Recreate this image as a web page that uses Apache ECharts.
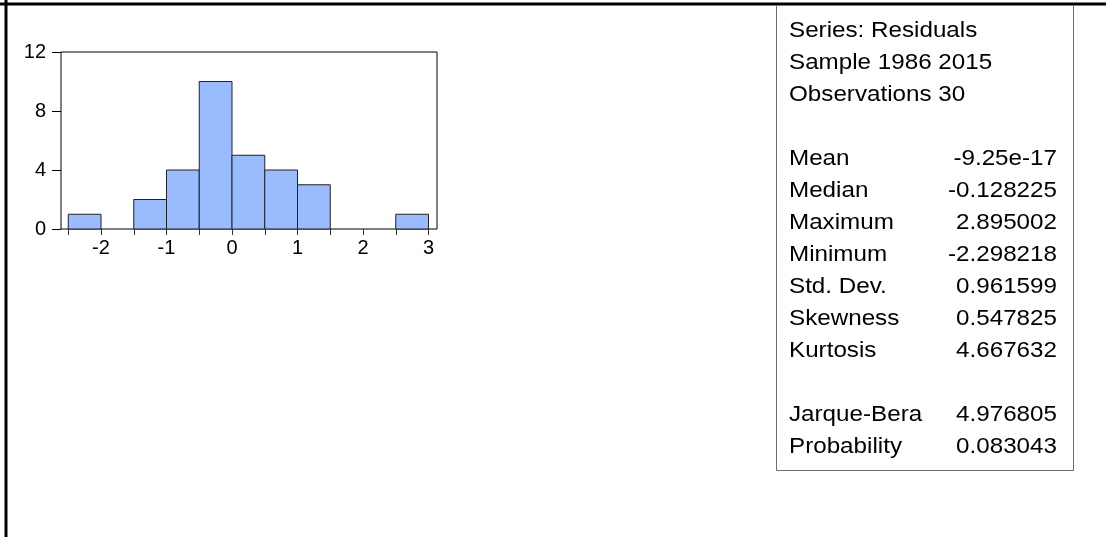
<!DOCTYPE html>
<html>
<head>
<meta charset="utf-8">
<script src="https://cdn.jsdelivr.net/npm/echarts@6/dist/echarts.min.js"></script>
<style>
  html, body { margin: 0; padding: 0; background: #fff; }
  #main { width: 1106px; height: 537px; }
</style>
</head>
<body>
<div id="main"></div>
<script>
// histogram bins (lower edge, upper edge) and counts
var binStart = [-2.5, -2.0, -1.5, -1.0, -0.5, 0.0, 0.5, 1.0, 1.5, 2.0, 2.5];
var binEnd   = [-2.0, -1.5, -1.0, -0.5, 0.0, 0.5, 1.0, 1.5, 2.0, 2.5, 3.0];
var counts   = [1, 0, 2, 4, 10, 5, 4, 3, 0, 0, 1];

// stats panel
var headLines  = ['Series: Residuals', 'Sample 1986 2015', 'Observations 30'];
var statNames  = ['Mean', 'Median', 'Maximum', 'Minimum', 'Std. Dev.', 'Skewness', 'Kurtosis'];
var statValues = ['-9.25e-17', '-0.128225', '2.895002', '-2.298218', '0.961599', '0.547825', '4.667632'];
var testNames  = ['Jarque-Bera', 'Probability'];
var testValues = ['4.976805', '0.083043'];

var FONT = 'Arial, "Liberation Sans", sans-serif';
var chart = echarts.init(document.getElementById('main'));

var binData = [];
for (var i = 0; i < counts.length; i++) {
  if (counts[i] > 0) binData.push([binStart[i], binEnd[i], counts[i]]);
}

// stats panel text (text in the original is a bit wider than tall)
var g = [];
var lineH = 32;
function txt(x, y, s, align) {
  g.push({
    type: 'text', x: x, y: y, scaleX: 1.1,
    style: { text: s, fill: '#000', font: '22px ' + FONT, textAlign: align || 'left', textVerticalAlign: 'middle' }
  });
}
var y0 = 31;
headLines.forEach(function (s, i) { txt(789, y0 + i * lineH, s); });
var y1 = y0 + (headLines.length + 1) * lineH;
statNames.forEach(function (s, i) {
  txt(789, y1 + i * lineH, s);
  txt(1057, y1 + i * lineH, statValues[i], 'right');
});
var y2 = y1 + (statNames.length + 1) * lineH;
testNames.forEach(function (s, i) {
  txt(789, y2 + i * lineH, s);
  txt(1057, y2 + i * lineH, testValues[i], 'right');
});
var boxBottom = 470;

// frame around the whole graph + stats box
g.push({ type: 'line', shape: { x1: 6, y1: 0, x2: 6, y2: 537 }, style: { stroke: '#000', lineWidth: 3 } });
g.push({ type: 'line', shape: { x1: 0, y1: 4, x2: 1106, y2: 4 }, style: { stroke: '#000', lineWidth: 3 } });
g.push({ type: 'polyline', shape: { points: [[776.5, 5], [776.5, boxBottom + 0.5], [1073.5, boxBottom + 0.5], [1073.5, 5]] },
  style: { stroke: '#707070', lineWidth: 1, fill: null } });

var option = {
  backgroundColor: '#fff',
  animation: false,
  graphic: g,
  grid: [
    // plot frame
    { left: 61, top: 52, width: 376, height: 177, show: true, borderColor: '#000', borderWidth: 1, backgroundColor: 'transparent' },
    // data area (-2.5 .. 3.0)
    { left: 68.25, top: 52, width: 360.25, height: 177 }
  ],
  xAxis: [
    { gridIndex: 0, type: 'value', min: 0, max: 1, show: false },
    {
      gridIndex: 1, type: 'value', min: -2.5, max: 3, interval: 0.5,
      axisLine: { show: false },
      axisTick: { show: true, length: 6, lineStyle: { color: '#333' } },
      splitLine: { show: false },
      axisLabel: {
        margin: 9, color: '#000', fontSize: 20, fontFamily: FONT,
        showMinLabel: true, showMaxLabel: true,
        formatter: function (v) { return Math.abs(v - Math.round(v)) < 1e-9 ? String(Math.round(v)) : ''; }
      }
    }
  ],
  yAxis: [
    {
      gridIndex: 0, type: 'value', min: 0, max: 12, interval: 4,
      axisLine: { show: false },
      axisTick: { show: true, length: 9, lineStyle: { color: '#000' } },
      splitLine: { show: false },
      axisLabel: { margin: 15, color: '#000', fontSize: 20, fontFamily: FONT }
    },
    { gridIndex: 1, type: 'value', min: 0, max: 12, show: false }
  ],
  series: [{
    type: 'custom',
    xAxisIndex: 1, yAxisIndex: 1,
    data: binData,
    renderItem: function (params, api) {
      var p0 = api.coord([api.value(0), api.value(2)]);
      var p1 = api.coord([api.value(1), 0]);
      return {
        type: 'rect',
        shape: { x: p0[0], y: p0[1], width: p1[0] - p0[0], height: p1[1] - p0[1] },
        style: { fill: '#99bbff', stroke: '#222', lineWidth: 1 }
      };
    }
  }]
};
chart.setOption(option);
</script>
</body>
</html>
